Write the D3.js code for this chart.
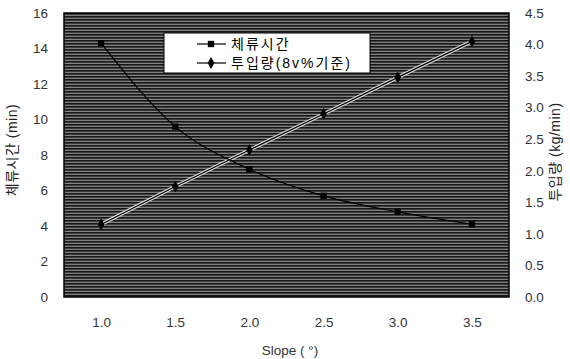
<!DOCTYPE html>
<html>
<head>
<meta charset="utf-8">
<script src="https://cdn.jsdelivr.net/npm/d3@7"></script>
<style>
  body { margin: 0; background: #fff; }
  text { font-family: "Liberation Sans", "Noto Sans CJK KR", sans-serif; }
</style>
</head>
<body>
<div class="result"></div>
<script>
const slopes = ['1.0', '1.5', '2.0', '2.5', '3.0', '3.5'];
const retention = [14.3, 9.6, 7.2, 5.7, 4.8, 4.1];    // 체류시간 (min), left axis
const feedRate = [1.15, 1.75, 2.33, 2.9, 3.48, 4.05];  // 투입량 (kg/min), right axis
const leftTicks = [0, 2, 4, 6, 8, 10, 12, 14, 16];
const rightTicks = [0, 0.5, 1, 1.5, 2, 2.5, 3, 3.5, 4, 4.5];

const w = 570;
const h = 359;
const m = { left: 64, right: 509, top: 13, bottom: 297 };

const svg = d3.select('.result')
  .append('svg')
  .attr('width', w)
  .attr('height', h);

// Scanned-looking striped plot background
const defs = svg.append('defs');
const pat = defs.append('pattern')
  .attr('id', 'scan')
  .attr('width', 6)
  .attr('height', 3)
  .attr('patternUnits', 'userSpaceOnUse');
pat.append('rect').attr('width', 6).attr('height', 3).attr('fill', '#7e7e7e');
pat.append('rect').attr('y', 1).attr('width', 6).attr('height', 1).attr('fill', '#181818');
pat.append('rect').attr('y', 2).attr('width', 6).attr('height', 1).attr('fill', '#3c3c3c');

const x = d3.scalePoint()
  .domain(slopes)
  .range([m.left, m.right])
  .padding(0.5);

const yL = d3.scaleLinear().domain([0, 16]).range([m.bottom, m.top]);
const yR = d3.scaleLinear().domain([0, 4.5]).range([m.bottom, m.top]);

svg.append('rect')
  .attr('x', m.left)
  .attr('y', m.top)
  .attr('width', m.right - m.left)
  .attr('height', m.bottom - m.top)
  .attr('fill', 'url(#scan)')
  .attr('stroke', '#000')
  .attr('stroke-width', 1.5);

// Axes
const axisL = svg.append('g')
  .attr('transform', 'translate(' + m.left + ',0)')
  .call(d3.axisLeft(yL).tickValues(leftTicks).tickSize(0).tickPadding(16));
const axisR = svg.append('g')
  .attr('transform', 'translate(' + m.right + ',0)')
  .call(d3.axisRight(yR).tickValues(rightTicks).tickFormat(d3.format('.1f')).tickSize(0).tickPadding(16));
const axisB = svg.append('g')
  .attr('transform', 'translate(0,' + m.bottom + ')')
  .call(d3.axisBottom(x).tickSize(0).tickPadding(20));

[axisL, axisR, axisB].forEach(function (g) {
  g.select('.domain').remove();
  g.selectAll('text')
    .attr('fill', '#333')
    .style('font-size', '13.5px');
});

// Axis titles
svg.append('text')
  .attr('transform', 'translate(17,150) rotate(-90)')
  .attr('text-anchor', 'middle')
  .attr('fill', '#222')
  .style('font-size', '14px')
  .style('letter-spacing', '0.5px')
  .text('체류시간 (min)');

svg.append('text')
  .attr('transform', 'translate(560,152) rotate(-90)')
  .attr('text-anchor', 'middle')
  .attr('fill', '#222')
  .style('font-size', '14px')
  .style('letter-spacing', '0.5px')
  .text('투입량 (kg/min)');

svg.append('text')
  .attr('x', 290)
  .attr('y', 355)
  .attr('text-anchor', 'middle')
  .attr('fill', '#333')
  .style('font-size', '13.5px')
  .text('Slope ( °)');

// Series
const lineL = d3.line()
  .x(function (d, i) { return x(slopes[i]); })
  .y(function (d) { return yL(d); })
  .curve(d3.curveMonotoneX);

const lineR = d3.line()
  .x(function (d, i) { return x(slopes[i]); })
  .y(function (d) { return yR(d); });

svg.append('path')
  .attr('d', lineR(feedRate))
  .attr('fill', 'none')
  .attr('stroke', '#ddd')
  .attr('stroke-width', 3.5);
svg.append('path')
  .attr('d', lineR(feedRate))
  .attr('fill', 'none')
  .attr('stroke', '#000')
  .attr('stroke-width', 1.2);

svg.append('path')
  .attr('d', lineL(retention))
  .attr('fill', 'none')
  .attr('stroke', '#000')
  .attr('stroke-width', 1.2);

const square = d3.symbol().type(d3.symbolSquare).size(40);
const diamond = d3.symbol().type(d3.symbolDiamond).size(40);

svg.selectAll('path.sq')
  .data(retention)
  .enter()
  .append('path')
  .attr('class', 'sq')
  .attr('d', square)
  .attr('transform', function (d, i) { return 'translate(' + x(slopes[i]) + ',' + yL(d) + ')'; })
  .attr('fill', '#000');

svg.selectAll('path.dm')
  .data(feedRate)
  .enter()
  .append('path')
  .attr('class', 'dm')
  .attr('d', diamond)
  .attr('transform', function (d, i) { return 'translate(' + x(slopes[i]) + ',' + yR(d) + ')'; })
  .attr('fill', '#000');

// Legend
const legend = svg.append('g');
legend.append('rect')
  .attr('x', 164)
  .attr('y', 33)
  .attr('width', 206)
  .attr('height', 40)
  .attr('fill', '#fff')
  .attr('stroke', '#000')
  .attr('stroke-width', 1);

const legendItems = [
  { label: '체류시간', sym: square, y: 44 },
  { label: '투입량(8v%기준)', sym: diamond, y: 63 }
];

legendItems.forEach(function (it) {
  legend.append('line')
    .attr('x1', 197).attr('x2', 226)
    .attr('y1', it.y).attr('y2', it.y)
    .attr('stroke', '#000')
    .attr('stroke-width', 1.2);
  legend.append('path')
    .attr('d', it.sym)
    .attr('transform', 'translate(211,' + it.y + ')')
    .attr('fill', '#000');
  legend.append('text')
    .attr('x', 231)
    .attr('y', it.y + 5)
    .attr('fill', '#000')
    .style('font-size', '14px')
    .style('letter-spacing', '2px')
    .text(it.label);
});
</script>
</body>
</html>
